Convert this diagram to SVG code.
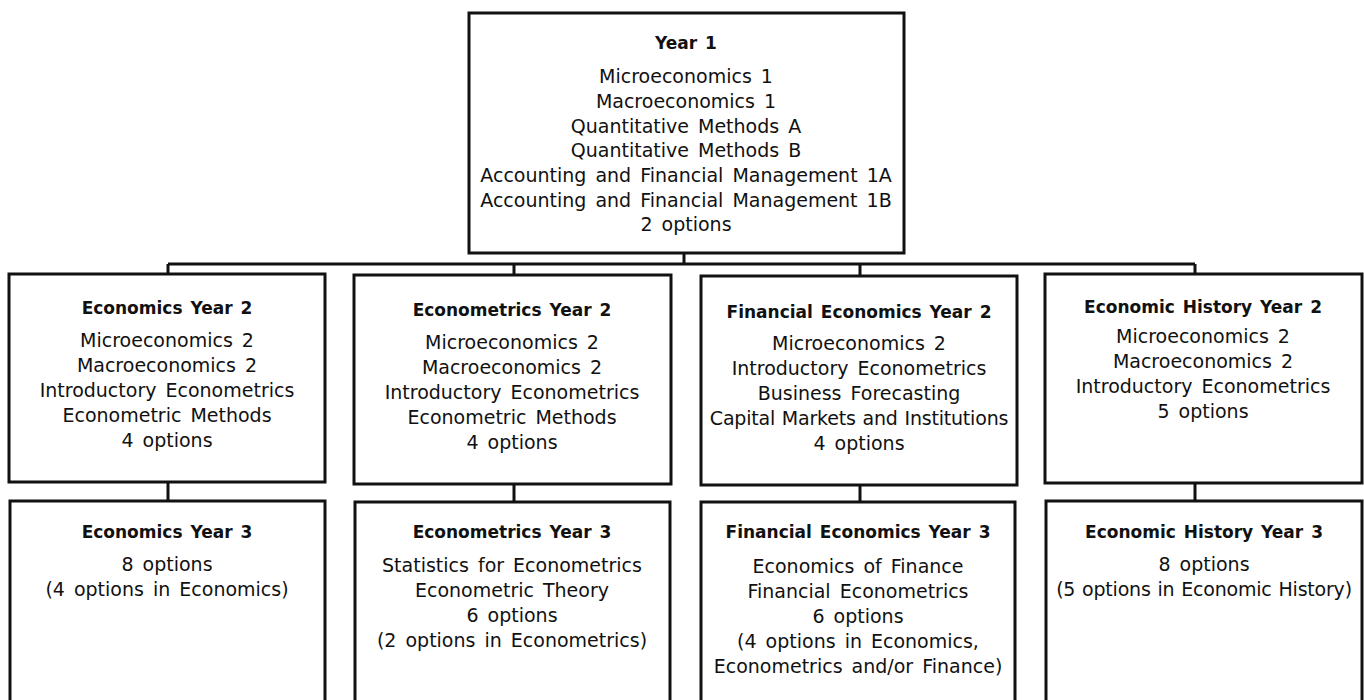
<svg xmlns="http://www.w3.org/2000/svg" width="1364" height="700" viewBox="0 0 1364 700">
<style>
.box{fill:#fff;stroke:#111;stroke-width:3}
.con{fill:none;stroke:#111;stroke-width:3}
text{font-family:"DejaVu Sans","Noto Sans",sans-serif;font-size:19px;fill:#111;text-anchor:middle;word-spacing:3px}
.t{font-weight:bold;font-size:17px;word-spacing:2px}
.n{word-spacing:1px;letter-spacing:-0.2px}
</style>
<rect width="1364" height="700" fill="#fff"/>
<g id="connectors">
<path class="con" d="M684,253V264M168,264H1195M168,264V274M514,264V275M860,264V276M1195,264V274"/>
<path class="con" d="M168,482V501M514,484V502M860,485V502M1195,483V501"/>
</g>
<g id="year1">
<rect class="box" x="469" y="13" width="435" height="240"/>
<text x="686" y="49" class="t">Year 1</text>
<text x="686" y="83">Microeconomics 1</text>
<text x="686" y="108">Macroeconomics 1</text>
<text x="686" y="133">Quantitative Methods A</text>
<text x="686" y="157">Quantitative Methods B</text>
<text x="686" y="182">Accounting and Financial Management 1A</text>
<text x="686" y="207">Accounting and Financial Management 1B</text>
<text x="686" y="231">2 options</text>
</g>
<g id="econ2">
<rect class="box" x="9" y="274" width="316" height="208"/>
<text x="167" y="314" class="t">Economics Year 2</text>
<text x="167" y="347">Microeconomics 2</text>
<text x="167" y="372">Macroeconomics 2</text>
<text x="167" y="397">Introductory Econometrics</text>
<text x="167" y="422">Econometric Methods</text>
<text x="167" y="447">4 options</text>
</g>
<g id="metrics2">
<rect class="box" x="354" y="275" width="317" height="209"/>
<text x="512" y="316" class="t">Econometrics Year 2</text>
<text x="512" y="349">Microeconomics 2</text>
<text x="512" y="374">Macroeconomics 2</text>
<text x="512" y="399">Introductory Econometrics</text>
<text x="512" y="424">Econometric Methods</text>
<text x="512" y="449">4 options</text>
</g>
<g id="fin2">
<rect class="box" x="701" y="276" width="316" height="209"/>
<text x="859" y="318" class="t">Financial Economics Year 2</text>
<text x="859" y="350">Microeconomics 2</text>
<text x="859" y="375">Introductory Econometrics</text>
<text x="859" y="400">Business Forecasting</text>
<text x="859" y="425" class="n">Capital Markets and Institutions</text>
<text x="859" y="450">4 options</text>
</g>
<g id="hist2">
<rect class="box" x="1045" y="274" width="317" height="209"/>
<text x="1203" y="313" class="t">Economic History Year 2</text>
<text x="1203" y="343">Microeconomics 2</text>
<text x="1203" y="368">Macroeconomics 2</text>
<text x="1203" y="393">Introductory Econometrics</text>
<text x="1203" y="418">5 options</text>
</g>
<g id="econ3">
<rect class="box" x="10" y="501" width="315" height="215"/>
<text x="167" y="538" class="t">Economics Year 3</text>
<text x="167" y="571">8 options</text>
<text x="167" y="596">(4 options in Economics)</text>
</g>
<g id="metrics3">
<rect class="box" x="355" y="502" width="315" height="215"/>
<text x="512" y="538" class="t">Econometrics Year 3</text>
<text x="512" y="572">Statistics for Econometrics</text>
<text x="512" y="597">Econometric Theory</text>
<text x="512" y="622">6 options</text>
<text x="512" y="647">(2 options in Econometrics)</text>
</g>
<g id="fin3">
<rect class="box" x="701" y="502" width="314" height="215"/>
<text x="858" y="538" class="t">Financial Economics Year 3</text>
<text x="858" y="573">Economics of Finance</text>
<text x="858" y="598">Financial Econometrics</text>
<text x="858" y="623">6 options</text>
<text x="858" y="648">(4 options in Economics,</text>
<text x="858" y="673">Econometrics and/or Finance)</text>
</g>
<g id="hist3">
<rect class="box" x="1046" y="501" width="316" height="215"/>
<text x="1204" y="538" class="t">Economic History Year 3</text>
<text x="1204" y="571">8 options</text>
<text x="1204" y="596" class="n">(5 options in Economic History)</text>
</g>
</svg>
